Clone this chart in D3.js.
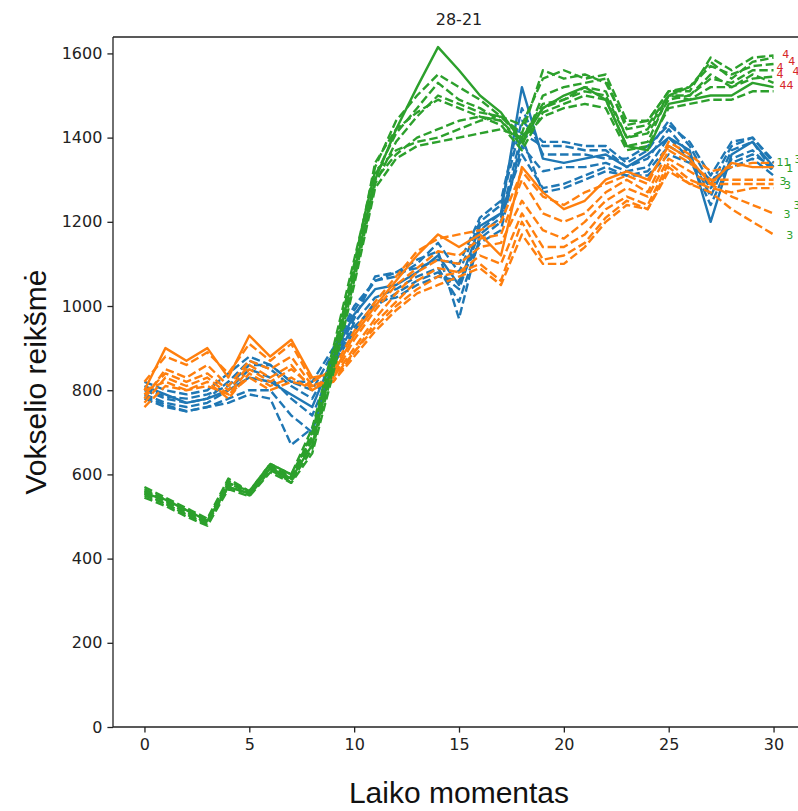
<!DOCTYPE html>
<html>
<head>
<meta charset="utf-8">
<script src="https://cdn.jsdelivr.net/npm/d3@7"></script>
<style>
  body { margin: 0; background: #fff; }
  svg { display: block; }
</style>
</head>
<body>
<div id="chart"></div>
<script>
// time axis (x)
const timePoints = [0,1,2,3,4,5,6,7,8,9,10,11,12,13,14,15,16,17,18,19,20,21,22,23,24,25,26,27,28,29,30];

// blue group, first one drawn solid
const blueSeries = [
  [810,790,770,780,800,830,820,790,760,880,980,1040,1050,1080,1120,1050,1190,1220,1520,1350,1340,1350,1360,1330,1360,1400,1370,1200,1360,1390,1330],
  [820,800,790,800,840,880,860,820,800,890,990,1060,1070,1100,1150,1080,1200,1240,1440,1390,1390,1380,1380,1340,1370,1440,1380,1290,1380,1400,1340],
  [800,780,770,780,820,870,850,810,780,870,970,1070,1080,1110,1130,970,1170,1210,1410,1380,1380,1370,1370,1330,1350,1420,1360,1260,1370,1390,1320],
  [790,770,760,770,800,850,830,780,740,860,960,1020,1040,1070,1090,1010,1160,1200,1380,1320,1330,1330,1340,1320,1330,1400,1350,1240,1350,1370,1320],
  [785,765,750,760,780,800,800,740,700,870,950,1000,1030,1060,1080,1040,1180,1220,1360,1280,1290,1310,1330,1310,1320,1380,1350,1280,1340,1360,1330],
  [780,760,750,760,770,790,780,670,710,860,940,1010,1020,1050,1070,1060,1150,1180,1400,1270,1280,1300,1320,1310,1310,1360,1340,1300,1330,1350,1310],
  [805,785,780,790,810,860,860,820,820,900,1000,1060,1080,1090,1110,1100,1210,1250,1470,1360,1360,1360,1350,1350,1380,1430,1390,1310,1390,1400,1345]
];

// orange group, first one drawn solid
const orangeSeries = [
  [800,900,870,900,830,930,880,920,830,840,930,1000,1060,1120,1170,1140,1170,1120,1330,1270,1230,1250,1300,1320,1300,1380,1350,1290,1340,1330,1330],
  [820,880,860,890,840,910,870,910,820,850,940,1010,1070,1130,1160,1170,1180,1200,1320,1260,1240,1270,1290,1310,1290,1390,1360,1320,1330,1340,1340],
  [780,850,830,860,810,870,850,880,810,830,920,990,1050,1090,1130,1120,1160,1170,1300,1220,1200,1220,1270,1300,1270,1370,1340,1300,1300,1300,1300],
  [790,840,820,840,800,860,830,860,800,830,900,970,1030,1080,1110,1100,1140,1150,1250,1180,1160,1200,1250,1280,1260,1350,1320,1290,1290,1290,1290],
  [770,830,810,830,790,850,820,850,810,820,890,960,1010,1060,1090,1080,1120,1100,1220,1140,1140,1170,1230,1260,1240,1340,1300,1280,1270,1280,1280],
  [800,820,800,820,780,840,810,830,800,830,890,950,1000,1040,1070,1080,1100,1060,1200,1110,1120,1150,1210,1250,1230,1330,1290,1290,1260,1240,1220],
  [760,810,800,810,790,830,800,820,810,820,880,940,990,1030,1050,1070,1090,1050,1170,1100,1100,1140,1200,1240,1230,1320,1290,1270,1230,1200,1170]
];

// green group, first one drawn solid
const greenSeries = [
  [555,540,515,490,570,555,615,590,670,870,1080,1300,1420,1520,1615,1560,1500,1460,1390,1470,1500,1520,1490,1380,1370,1480,1490,1500,1500,1530,1520],
  [570,545,520,495,590,560,625,600,690,880,1100,1330,1440,1500,1550,1520,1490,1450,1410,1560,1540,1550,1530,1430,1440,1510,1510,1590,1560,1590,1595],
  [560,535,510,485,580,555,620,595,680,860,1070,1310,1410,1470,1530,1490,1470,1440,1380,1500,1520,1530,1540,1420,1430,1500,1520,1570,1550,1570,1575],
  [550,530,505,480,575,550,610,585,660,850,1060,1290,1390,1450,1500,1480,1460,1450,1400,1480,1490,1510,1500,1400,1410,1490,1500,1540,1530,1560,1560],
  [565,540,515,490,585,560,620,590,700,890,1090,1340,1420,1460,1490,1470,1450,1430,1370,1460,1480,1500,1490,1380,1390,1500,1490,1520,1520,1540,1545],
  [555,530,505,485,570,555,615,580,690,870,1080,1300,1360,1400,1420,1440,1450,1440,1390,1450,1470,1480,1470,1370,1380,1470,1480,1490,1490,1510,1510],
  [560,540,515,490,580,560,625,600,710,900,1110,1320,1370,1390,1400,1420,1440,1450,1430,1540,1560,1540,1550,1440,1440,1510,1520,1580,1540,1580,1590],
  [545,525,500,478,565,548,605,580,650,840,1050,1280,1350,1380,1390,1400,1410,1420,1400,1470,1490,1520,1510,1400,1420,1500,1500,1550,1520,1550,1530]
];

// text annotations near the line ends: [time, value, text]
const redLabels = [
  [30.42, 1599, '4'], [30.7, 1582, '4'], [30.14, 1568, '4'],
  [30.9, 1558, '4'], [30.14, 1551, '4'], [30.28, 1525, '44']
];
const greenLabels = [
  [30.14, 1342, '11'], [30.6, 1328, '1'], [31.0, 1349, '3'],
  [30.28, 1297, '3'], [30.5, 1287, '3'], [30.95, 1240, '3'],
  [30.47, 1218, '3'], [30.6, 1169, '3']
];

const xTicks = [0, 5, 10, 15, 20, 25, 30];
const yTicks = [0, 200, 400, 600, 800, 1000, 1200, 1400, 1600];

const W = 798, H = 811;
const margin = { left: 113, right: -7, top: 37, bottom: 84 };
const plotW = W - margin.left - margin.right;
const plotH = H - margin.top - margin.bottom;

const x = d3.scaleLinear().domain([-1.5, 31.5]).range([0, plotW]);
const y = d3.scaleLinear().domain([0, 1639]).range([plotH, 0]);

const svg = d3.select('#chart').append('svg')
  .attr('width', W)
  .attr('height', H);

svg.append('defs').append('clipPath').attr('id', 'plotClip')
  .append('rect').attr('width', plotW).attr('height', plotH);

const g = svg.append('g').attr('transform', `translate(${margin.left},${margin.top})`);

const line = d3.line()
  .x((d, i) => x(timePoints[i]))
  .y(d => y(d));

const lines = g.append('g').attr('clip-path', 'url(#plotClip)');

function drawGroup(series, color) {
  lines.append('g')
    .selectAll('path')
    .data(series)
    .join('path')
    .attr('fill', 'none')
    .attr('stroke', color)
    .attr('stroke-width', 2.4)
    .attr('stroke-linejoin', 'round')
    .attr('stroke-dasharray', (d, i) => i === 0 ? null : '8.5,3.7')
    .attr('d', line);
}

drawGroup(blueSeries, '#1f77b4');
drawGroup(orangeSeries, '#ff7f0e');
drawGroup(greenSeries, '#2ca02c');

// end annotations (they overlap in the original too)
function drawLabels(labels, color) {
  g.append('g')
    .selectAll('text')
    .data(labels)
    .join('text')
    .attr('x', d => x(d[0]))
    .attr('y', d => y(d[1]))
    .attr('dy', '0.35em')
    .attr('fill', color)
    .style('font-family', 'DejaVu Sans, sans-serif')
    .style('font-size', '11px')
    .text(d => d[2]);
}
drawLabels(redLabels, '#d62728');
drawLabels(greenLabels, '#2ca02c');

// axes
const xAxis = d3.axisBottom(x).tickValues(xTicks).tickSize(5.6).tickPadding(6).tickFormat(d3.format('d'));
const yAxis = d3.axisLeft(y).tickValues(yTicks).tickSize(5.6).tickPadding(5).tickFormat(d3.format('d'));

const gx = g.append('g').attr('transform', `translate(0,${plotH})`).call(xAxis);
const gy = g.append('g').call(yAxis);

[gx, gy].forEach(a => {
  a.select('.domain').remove();
  a.selectAll('line').attr('stroke', '#222').attr('stroke-width', 1.3);
  a.selectAll('text')
    .attr('fill', '#222')
    .style('font-family', 'DejaVu Sans, sans-serif')
    .style('font-size', '16px');
});

// spines
const spine = g.append('g').attr('stroke', '#222').attr('stroke-width', 1.3).attr('fill', 'none');
spine.append('line').attr('x1', 0).attr('x2', 0).attr('y1', 0).attr('y2', plotH);
spine.append('line').attr('x1', 0).attr('x2', plotW).attr('y1', plotH).attr('y2', plotH);
spine.append('line').attr('x1', 0).attr('x2', plotW).attr('y1', 0).attr('y2', 0);
spine.append('line').attr('x1', plotW).attr('x2', plotW).attr('y1', 0).attr('y2', plotH);

// title + axis labels
svg.append('text')
  .attr('x', margin.left + plotW / 2)
  .attr('y', margin.top - 12)
  .attr('text-anchor', 'middle')
  .attr('fill', '#222')
  .style('font-family', 'DejaVu Sans, sans-serif')
  .style('font-size', '16px')
  .text('28-21');

svg.append('text')
  .attr('x', margin.left + plotW / 2)
  .attr('y', 803)
  .attr('text-anchor', 'middle')
  .attr('fill', '#111')
  .style('font-family', 'Liberation Sans, Arial, sans-serif')
  .style('font-size', '30px')
  .text('Laiko momentas');

svg.append('text')
  .attr('transform', `translate(46,${margin.top + plotH / 2}) rotate(-90)`)
  .attr('text-anchor', 'middle')
  .attr('fill', '#111')
  .style('font-family', 'Liberation Sans, Arial, sans-serif')
  .style('font-size', '30px')
  .text('Vokselio reikšmė');
</script>
</body>
</html>
